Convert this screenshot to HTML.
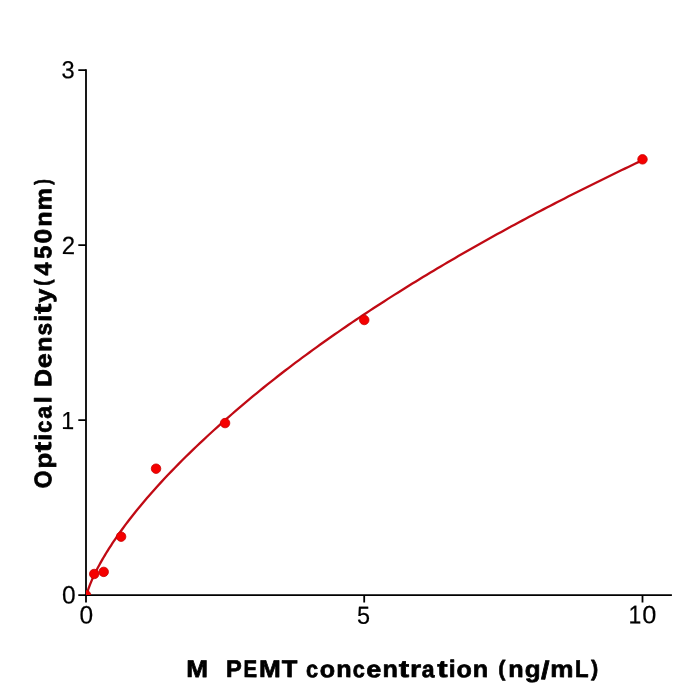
<!DOCTYPE html>
<html><head><meta charset="utf-8"><title>PEMT standard curve</title><style>
html,body{margin:0;padding:0;background:#fff;}
svg{display:block;will-change:transform;}
text{font-family:"Liberation Sans",sans-serif;font-size:24.0px;}
</style></head><body>
<svg width="700" height="700" viewBox="0 0 700 700" text-rendering="geometricPrecision">
<rect width="700" height="700" fill="#fff"/>
<defs><clipPath id="ax"><rect x="86.0" y="69" width="586.0" height="526.1"/></clipPath></defs>
<g stroke="#000" stroke-width="1.8" fill="none">
<path d="M86.0,69.3 V595.1 H671.9"/>
<path d="M78.3,70.1 H86.0 M78.3,245.1 H86.0 M78.3,420.1 H86.0 M78.3,595.1 H86.0"/>
<path d="M86.0,595.1 V602.6 M364.2,595.1 V602.6 M642.5,595.1 V602.6"/>
</g>
<g clip-path="url(#ax)">
<path d="M86.00,598.46 L86.28,596.54 L86.56,595.24 L86.83,594.12 L87.11,593.09 L87.39,592.12 L87.67,591.21 L87.95,590.33 L88.23,589.49 L88.50,588.67 L88.78,587.88 L89.34,586.35 L90.18,584.16 L91.03,582.08 L91.87,580.10 L92.72,578.19 L93.56,576.34 L94.41,574.55 L95.25,572.81 L96.09,571.11 L96.94,569.45 L97.78,567.83 L98.63,566.24 L99.47,564.68 L100.32,563.14 L101.16,561.63 L102.00,560.14 L102.85,558.68 L103.69,557.24 L104.54,555.81 L105.38,554.41 L106.23,553.02 L107.07,551.65 L107.91,550.29 L108.76,548.95 L109.60,547.63 L110.45,546.31 L111.29,545.01 L112.14,543.73 L112.98,542.45 L113.83,541.19 L114.94,539.55 L118.48,534.43 L122.02,529.48 L125.56,524.67 L129.10,520.00 L132.64,515.45 L136.18,511.01 L139.72,506.67 L143.26,502.42 L146.80,498.26 L150.34,494.18 L153.89,490.17 L157.43,486.23 L160.97,482.36 L164.51,478.55 L168.05,474.80 L171.59,471.10 L175.13,467.46 L178.67,463.86 L182.21,460.31 L185.75,456.80 L189.29,453.33 L192.83,449.90 L196.37,446.51 L199.91,443.15 L203.46,439.82 L207.00,436.53 L210.54,433.26 L214.08,430.02 L217.62,426.82 L221.16,423.64 L224.70,420.48 L228.24,417.35 L231.78,414.25 L235.32,411.18 L238.86,408.13 L242.40,405.11 L245.94,402.11 L249.48,399.14 L253.02,396.19 L256.57,393.27 L260.11,390.37 L263.65,387.50 L267.19,384.65 L270.73,381.83 L274.27,379.03 L277.81,376.26 L281.35,373.50 L284.89,370.77 L288.43,368.06 L291.97,365.37 L295.51,362.70 L299.05,360.06 L302.59,357.43 L306.13,354.82 L309.68,352.22 L313.22,349.65 L316.76,347.09 L320.30,344.56 L323.84,342.03 L327.38,339.53 L330.92,337.04 L334.46,334.56 L338.00,332.10 L341.54,329.66 L345.08,327.23 L348.62,324.82 L352.16,322.42 L355.70,320.03 L359.25,317.66 L362.79,315.30 L366.33,312.95 L369.87,310.62 L373.41,308.30 L376.95,305.99 L380.49,303.70 L384.03,301.42 L387.57,299.15 L391.11,296.89 L394.65,294.65 L398.19,292.41 L401.73,290.19 L405.27,287.98 L408.81,285.78 L412.36,283.59 L415.90,281.41 L419.44,279.25 L422.98,277.09 L426.52,274.95 L430.06,272.81 L433.60,270.69 L437.14,268.58 L440.68,266.47 L444.22,264.38 L447.76,262.29 L451.30,260.22 L454.84,258.15 L458.38,256.10 L461.93,254.05 L465.47,252.02 L469.01,249.99 L472.55,247.97 L476.09,245.96 L479.63,243.96 L483.17,241.97 L486.71,239.99 L490.25,238.02 L493.79,236.05 L497.33,234.09 L500.87,232.14 L504.41,230.20 L507.95,228.27 L511.49,226.35 L515.04,224.43 L518.58,222.52 L522.12,220.62 L525.66,218.73 L529.20,216.85 L532.74,214.97 L536.28,213.10 L539.82,211.24 L543.36,209.38 L546.90,207.54 L550.44,205.70 L553.98,203.86 L557.52,202.04 L561.06,200.22 L564.60,198.41 L568.15,196.60 L571.69,194.81 L575.23,193.02 L578.77,191.23 L582.31,189.46 L585.85,187.68 L589.39,185.92 L592.93,184.16 L596.47,182.41 L600.01,180.67 L603.55,178.93 L607.09,177.20 L610.63,175.47 L614.17,173.75 L617.72,172.04 L621.26,170.33 L624.80,168.63 L628.34,166.94 L631.88,165.25 L635.42,163.57 L638.96,161.89 L642.50,160.22" fill="none" stroke="#c00a14" stroke-width="2.3" stroke-linejoin="round"/>
<g fill="#f50000" stroke="#c80000" stroke-width="0.8">
<circle cx="86.00" cy="595.10" r="4.75"/>
<circle cx="94.24" cy="573.98" r="4.75"/>
<circle cx="103.70" cy="571.89" r="4.75"/>
<circle cx="121.10" cy="536.70" r="4.75"/>
<circle cx="156.05" cy="468.70" r="4.75"/>
<circle cx="225.07" cy="423.08" r="4.75"/>
<circle cx="364.25" cy="320.00" r="4.75"/>
<circle cx="642.50" cy="159.35" r="4.75"/>
</g>
</g>
<g fill="#000" stroke="#000" stroke-width="0.2">
<text transform="matrix(0.9843,0.00295,-0.00309,1.0299,61.55,78.31)">3</text>
<text transform="matrix(0.9969,0.00299,-0.00311,1.0383,61.65,253.95)">2</text>
<text transform="matrix(0.9664,0.00290,-0.00309,1.0296,61.28,428.95)">1</text>
<text transform="matrix(1.0198,0.00306,-0.00314,1.0475,61.99,603.50)">0</text>
<text transform="matrix(1.0198,0.00306,-0.00314,1.0475,79.49,623.40)">0</text>
<text transform="matrix(0.9755,0.00293,-0.00308,1.0271,357.11,623.71)">5</text>
<text transform="matrix(0.9567,0.00287,-0.00322,1.0720,628.50,623.45)">1</text><text transform="matrix(1.0547,0.00316,-0.00312,1.0417,642.36,623.21)">0</text>
</g>
<g fill="#000" font-weight="bold" stroke="#000" stroke-width="0.7" stroke-linejoin="round">
<text transform="matrix(1.0878,0.00326,-0.00301,1.0040,186.35,677.10)">M</text><text> </text><text> </text><text transform="matrix(0.9810,0.00294,-0.00301,1.0040,226.06,677.10)">P</text><text transform="matrix(0.8472,0.00254,-0.00301,1.0040,243.41,677.10)">E</text><text transform="matrix(1.0878,0.00326,-0.00301,1.0040,258.99,677.10)">M</text><text transform="matrix(1.0615,0.00318,-0.00301,1.0040,281.68,677.10)">T</text><text> </text><text transform="matrix(0.9042,0.00271,-0.00295,0.9818,306.09,677.21)">c</text><text transform="matrix(1.0440,0.00313,-0.00295,0.9818,319.82,677.21)">o</text><text transform="matrix(1.0482,0.00314,-0.00292,0.9727,336.15,677.10)">n</text><text transform="matrix(0.9042,0.00271,-0.00295,0.9818,352.65,677.21)">c</text><text transform="matrix(1.1231,0.00337,-0.00295,0.9818,366.30,677.21)">e</text><text transform="matrix(1.0482,0.00314,-0.00292,0.9727,382.50,677.10)">n</text><text transform="matrix(1.2999,0.00390,-0.00301,1.0046,398.77,676.89)">t</text><text transform="matrix(1.1893,0.00357,-0.00292,0.9727,410.10,677.10)">r</text><text transform="matrix(0.9556,0.00287,-0.00295,0.9818,421.87,677.21)">a</text><text transform="matrix(1.2999,0.00390,-0.00301,1.0046,437.24,676.89)">t</text><text transform="matrix(1.0280,0.00308,-0.00299,0.9952,448.73,677.10)">i</text><text transform="matrix(1.0440,0.00313,-0.00295,0.9818,456.53,677.21)">o</text><text transform="matrix(1.0482,0.00314,-0.00292,0.9727,472.87,677.10)">n</text><text> </text><text transform="matrix(0.9007,0.00270,-0.00274,0.9122,498.27,675.68)">(</text><text transform="matrix(1.0482,0.00314,-0.00292,0.9727,508.33,677.10)">n</text><text transform="matrix(1.0784,0.00324,-0.00294,0.9808,524.65,677.23)">g</text><text transform="matrix(1.2640,0.00379,-0.00315,1.0506,541.10,678.79)">/</text><text transform="matrix(1.0872,0.00326,-0.00292,0.9727,550.15,677.10)">m</text><text transform="matrix(0.9262,0.00278,-0.00301,1.0040,574.95,677.10)">L</text><text transform="matrix(0.9007,0.00270,-0.00274,0.9122,591.04,675.68)">)</text>
<g transform="rotate(-90)">
<text transform="matrix(0.9475,0.00284,-0.00301,1.0026,-488.23,51.30)">O</text><text transform="matrix(1.0729,0.00322,-0.00290,0.9655,-468.44,51.27)">p</text><text transform="matrix(1.2957,0.00389,-0.00298,0.9936,-452.13,50.99)">t</text><text transform="matrix(1.0243,0.00307,-0.00295,0.9842,-440.70,51.20)">i</text><text transform="matrix(0.9013,0.00270,-0.00291,0.9709,-432.81,51.30)">c</text><text transform="matrix(0.9526,0.00286,-0.00291,0.9709,-418.86,51.30)">a</text><text transform="matrix(1.0243,0.00307,-0.00295,0.9842,-403.26,51.20)">l</text><text> </text><text transform="matrix(1.0384,0.00312,-0.00298,0.9929,-386.96,51.20)">D</text><text transform="matrix(1.1195,0.00336,-0.00291,0.9709,-368.18,51.30)">e</text><text transform="matrix(1.0449,0.00313,-0.00289,0.9619,-352.06,51.20)">n</text><text transform="matrix(0.9427,0.00283,-0.00291,0.9700,-335.40,51.30)">s</text><text transform="matrix(1.0243,0.00307,-0.00295,0.9842,-321.74,51.20)">i</text><text transform="matrix(1.2957,0.00389,-0.00298,0.9936,-314.08,50.99)">t</text><text transform="matrix(1.0577,0.00317,-0.00292,0.9731,-302.81,51.41)">y</text><text transform="matrix(0.7825,0.00235,-0.00271,0.9023,-285.74,49.80)">(</text><text transform="matrix(0.9723,0.00292,-0.00298,0.9929,-275.45,51.20)">4</text><text transform="matrix(0.9798,0.00294,-0.00300,0.9989,-258.72,51.30)">5</text><text transform="matrix(1.0951,0.00329,-0.00301,1.0026,-243.54,51.30)">0</text><text transform="matrix(1.0440,0.00313,-0.00289,0.9619,-226.75,51.20)">n</text><text transform="matrix(1.0564,0.00317,-0.00289,0.9619,-210.47,51.20)">m</text><text transform="matrix(0.7087,0.00213,-0.00271,0.9023,-184.82,49.80)">)</text>
</g>
</g>
</svg>
</body></html>
